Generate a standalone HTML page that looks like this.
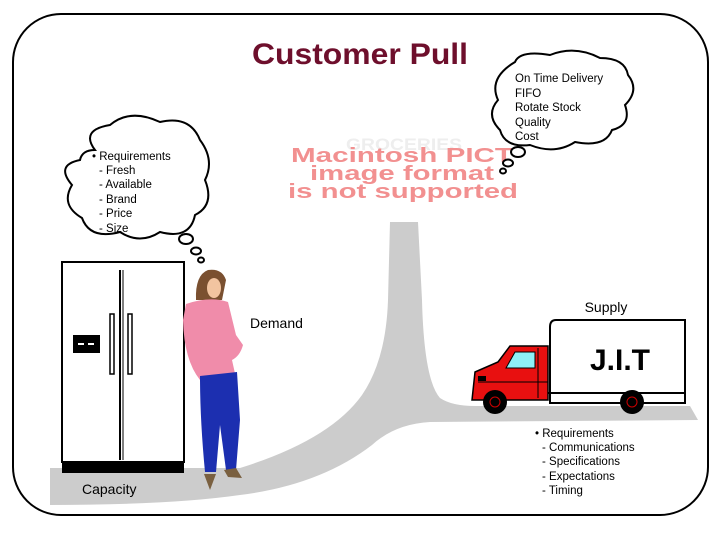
<!DOCTYPE html>
<html><head><meta charset="utf-8"><style>
body{margin:0;background:#fff;width:720px;height:540px;overflow:hidden;font-family:"Liberation Sans",sans-serif}
svg{position:absolute;left:0;top:0}
</style></head><body>
<svg width="720" height="540" viewBox="0 0 720 540" font-family="Liberation Sans, sans-serif">
<rect x="13" y="14" width="695" height="501" rx="48" fill="#fff" stroke="#000" stroke-width="2"/>
<path d="M390 222 L418 222 L422 300 Q424 380 440 398 Q452 406 475 406 L690 406 L698 420 L430 422 Q395 424 372 445 Q320 485 240 495 Q170 505 50 505 L50 468 L240 468 Q330 440 362 395 Q386 360 388 300 Z" fill="#cccccc"/>
<text x="252" y="64" font-size="30" font-weight="bold" fill="#6e0f2c" textLength="216" lengthAdjust="spacingAndGlyphs">Customer Pull</text>
<text x="346" y="150" font-size="17" font-weight="bold" fill="#eee" textLength="116" lengthAdjust="spacingAndGlyphs">GROCERIES</text>
<g font-size="20" font-weight="bold" fill="#f29090">
<text x="291" y="162" textLength="222" lengthAdjust="spacingAndGlyphs">Macintosh PICT</text>
<text x="310" y="180" textLength="184" lengthAdjust="spacingAndGlyphs">image format</text>
<text x="288" y="198" textLength="230" lengthAdjust="spacingAndGlyphs">is not supported</text>
</g>
<path d="M95 150 Q80 130 110 125 Q130 108 160 122 Q190 115 200 140 Q215 160 205 180 Q215 205 195 215 Q190 240 160 232 Q140 245 120 232 Q90 240 82 218 Q60 205 72 185 Q55 165 80 160 Q82 150 95 150 Z" fill="#fff" stroke="#000" stroke-width="2"/>
<ellipse cx="186" cy="239" rx="7" ry="5" fill="#fff" stroke="#000" stroke-width="2"/>
<ellipse cx="196" cy="251" rx="5" ry="3.5" fill="#fff" stroke="#000" stroke-width="2"/>
<ellipse cx="201" cy="260" rx="3" ry="2.5" fill="#fff" stroke="#000" stroke-width="2"/>
<g font-size="11.5" fill="#000">
<text x="92" y="160">• Requirements</text>
<text x="99" y="174">- Fresh</text>
<text x="99" y="188">- Available</text>
<text x="99" y="203">- Brand</text>
<text x="99" y="217">- Price</text>
<text x="99" y="232">- Size</text>
</g>
<path d="M515 62 Q520 50 550 55 Q575 45 600 58 Q625 58 628 75 Q640 90 625 105 Q632 125 612 130 Q605 148 575 142 Q555 155 530 145 Q505 148 500 130 Q485 115 498 100 Q488 78 515 62 Z" fill="#fff" stroke="#000" stroke-width="2"/>
<ellipse cx="518" cy="152" rx="7" ry="5" fill="#fff" stroke="#000" stroke-width="2"/>
<ellipse cx="508" cy="163" rx="5" ry="3.5" fill="#fff" stroke="#000" stroke-width="2"/>
<ellipse cx="503" cy="171" rx="3" ry="2.5" fill="#fff" stroke="#000" stroke-width="2"/>
<g font-size="11.5" fill="#000">
<text x="515" y="82">On Time Delivery</text>
<text x="515" y="97">FIFO</text>
<text x="515" y="111">Rotate Stock</text>
<text x="515" y="126">Quality</text>
<text x="515" y="140">Cost</text>
</g>
<rect x="62" y="262" width="122" height="200" fill="#fff" stroke="#000" stroke-width="2"/>
<line x1="120" y1="270" x2="120" y2="460" stroke="#000" stroke-width="2"/>
<line x1="123" y1="270" x2="123" y2="460" stroke="#000" stroke-width="1"/>
<rect x="110" y="314" width="4" height="60" fill="#fff" stroke="#000" stroke-width="1.5"/>
<rect x="128" y="314" width="4" height="60" fill="#fff" stroke="#000" stroke-width="1.5"/>
<rect x="73" y="335" width="27" height="18" fill="#000"/>
<rect x="78" y="343" width="6" height="2" fill="#fff"/><rect x="88" y="343" width="6" height="2" fill="#fff"/>
<rect x="62" y="462" width="122" height="11" fill="#000"/>
<text x="82" y="494" font-size="14" fill="#000">Capacity</text>
<path d="M196 300 Q195 275 208 270 Q222 268 226 280 L222 300 Z" fill="#7a5030"/>
<ellipse cx="214" cy="288" rx="7" ry="10" fill="#f2c4a0"/>
<path d="M186 304 Q210 296 228 302 L236 335 L243 345 Q240 356 232 360 L236 378 L200 380 Q184 360 183 320 Z" fill="#f08caa"/>
<path d="M200 376 L237 372 L240 420 L236 470 L226 470 L220 425 L216 472 L205 472 Q200 420 200 376 Z" fill="#1c2fb0"/>
<path d="M204 474 L216 474 L210 490 Z" fill="#7a6040"/>
<path d="M224 470 L236 468 L242 478 L228 477 Z" fill="#7a6040"/>
<text x="250" y="328" font-size="14" fill="#000">Demand</text>
<text x="606" y="312" font-size="14" fill="#000" text-anchor="middle">Supply</text>
<path d="M556 320 L685 320 L685 403 L550 403 L550 327 Q550 320 556 320 Z" fill="#fff" stroke="#000" stroke-width="2"/>
<text x="620" y="370" font-size="30" font-weight="bold" fill="#000" text-anchor="middle">J.I.T</text>
<path d="M475 372 L498 362 L510 346 L548 346 L548 400 L472 400 Z" fill="#e81010" stroke="#000" stroke-width="1.5"/>
<path d="M515 352 L535 352 L535 368 L506 368 Z" fill="#8ef0f8" stroke="#000" stroke-width="1"/>
<line x1="538" y1="348" x2="538" y2="398" stroke="#000"/>
<line x1="478" y1="382" x2="548" y2="382" stroke="#000"/>
<rect x="478" y="376" width="8" height="5" fill="#000"/>
<line x1="548" y1="393" x2="685" y2="393" stroke="#000" stroke-width="2"/>
<circle cx="495" cy="402" r="12" fill="#000"/><circle cx="495" cy="402" r="5" fill="none" stroke="#c00"/>
<circle cx="632" cy="402" r="12" fill="#000"/><circle cx="632" cy="402" r="5" fill="none" stroke="#c00"/>
<g font-size="11.5" fill="#000">
<text x="535" y="437">• Requirements</text>
<text x="542" y="451">- Communications</text>
<text x="542" y="465">- Specifications</text>
<text x="542" y="480">- Expectations</text>
<text x="542" y="494">- Timing</text>
</g>
</svg>
</body></html>
